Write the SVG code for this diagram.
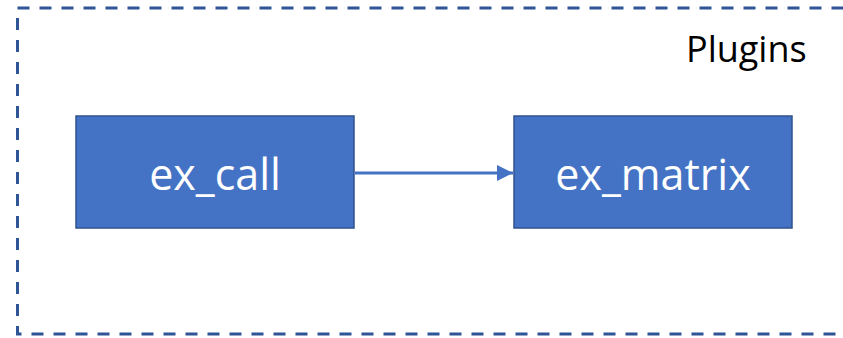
<svg xmlns="http://www.w3.org/2000/svg" width="843" height="338" viewBox="0 0 843 338">
  <style>
    .frame { fill: none; stroke: #2F5597; stroke-width: 3; stroke-dasharray: 12 10; }
    .box rect { fill: #4472C4; stroke: #2F528F; stroke-width: 1.5; }
    .box text { fill: #FFFFFF; font-family: "Open Sans", "Liberation Sans", sans-serif; font-size: 43px; text-anchor: middle; }
    .title { fill: #000000; font-family: "Open Sans", "Liberation Sans", sans-serif; font-size: 36px; }
    .edge { stroke: #4472C4; stroke-width: 3; fill: none; }
  </style>
  <defs>
    <marker id="arrow" viewBox="0 0 10 10" refX="10" refY="5" markerWidth="5.4" markerHeight="5.4" orient="auto" markerUnits="strokeWidth">
      <path d="M0,0 L10,5 L0,10 Z" fill="#4472C4"/>
    </marker>
  </defs>
  <rect width="843" height="338" fill="#FFFFFF"/>

  <!-- dashed plugin container, right edge runs past the canvas -->
  <g id="plugins">
    <rect class="frame" x="17.5" y="8" width="840" height="326"/>
    <text class="title" x="686" y="62">Plugins</text>
  </g>

  <g id="ex_call" class="box">
    <rect x="76" y="116" width="278" height="112"/>
    <text x="215" y="190">ex_call</text>
  </g>

  <g id="ex_matrix" class="box">
    <rect x="514" y="116" width="278" height="112"/>
    <text x="653" y="190">ex_matrix</text>
  </g>

  <g id="connectors">
    <line class="edge" x1="355" y1="173" x2="513" y2="173" marker-end="url(#arrow)"/>
  </g>
</svg>
